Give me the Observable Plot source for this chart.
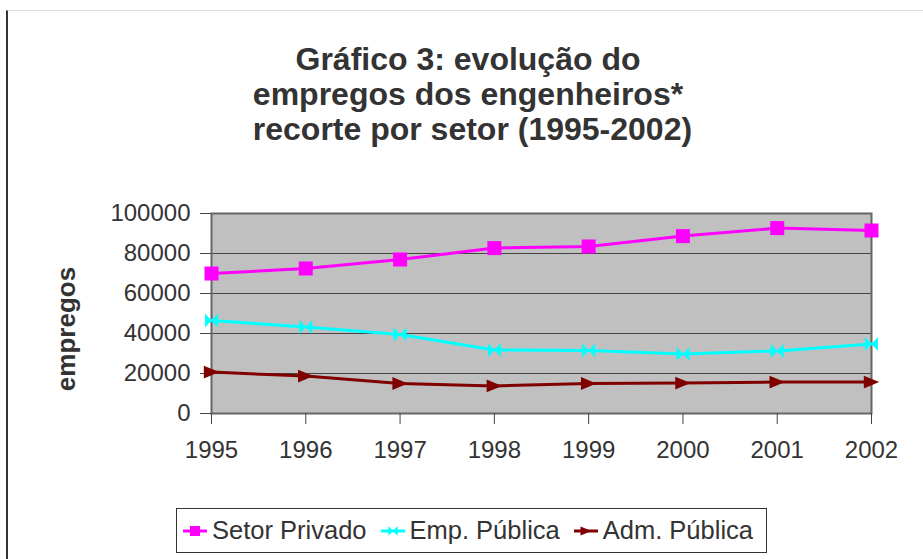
<!DOCTYPE html>
<html>
<head>
<meta charset="utf-8">
<script src="https://cdn.jsdelivr.net/npm/d3@7"></script>
<script src="https://cdn.jsdelivr.net/npm/@observablehq/plot@0.6"></script>
<style>
  html, body { margin: 0; padding: 0; background: #fff; }
  body { width: 923px; height: 559px; position: relative; overflow: hidden; font-family: "Liberation Sans", Arial, sans-serif; color: #333; }
  #frame { position: absolute; left: 6px; top: 10px; width: 917px; height: 560px; border-top: 1px solid #ddd; border-left: 2px solid #333; box-sizing: border-box; }
  #title { position: absolute; left: 0; top: 42px; width: 936px; text-align: center; font-weight: bold; font-size: 32px; line-height: 35px; white-space: pre; color: #333; }
  #ylabel { position: absolute; left: 66px; top: 329px; transform: translate(-50%, -50%) rotate(-90deg); font-weight: bold; font-size: 26px; line-height: normal; white-space: nowrap; color: #333; }
  #chart { position: absolute; left: 0; top: 160px; }
  #legend { position: absolute; left: 176px; top: 508px; width: 591px; height: 45px; border: 1px solid #333; box-sizing: border-box; display: flex; flex-wrap: nowrap; align-items: center; padding-left: 6px; font-size: 25.5px; color: #333; background: #fff; white-space: nowrap; overflow: hidden; }
  .item { display: flex; align-items: center; margin-right: 14px; flex: 0 0 auto; white-space: nowrap; }
  .item svg { margin-right: 5px; flex: 0 0 auto; }
</style>
</head>
<body>
<div id="frame"></div>
<div id="title"></div>
<div id="ylabel"></div>
<div id="chart"></div>
<div id="legend"></div>
<script>
const titleLines = ["Gráfico 3: evolução do", "empregos dos engenheiros*", " recorte por setor (1995-2002)"];
const years = [1995, 1996, 1997, 1998, 1999, 2000, 2001, 2002];
const seriesNames = ["Setor Privado", "Emp. Pública", "Adm. Pública"];
const seriesColors = ["#ff00ff", "#00ffff", "#800000"];
const setorPrivado = [70000, 72500, 77000, 82700, 83500, 88700, 92700, 91500];
const empPublica = [46500, 43200, 39500, 31800, 31500, 29800, 31300, 34800];
const admPublica = [20700, 18700, 15000, 13800, 15000, 15200, 15700, 15700];
const yTicks = [0, 20000, 40000, 60000, 80000, 100000];
const yLabel = "empregos";

const seriesValues = [setorPrivado, empPublica, admPublica];
const rows = [];
seriesNames.forEach((name, i) => {
  years.forEach((year, j) => rows.push({series: name, year, value: seriesValues[i][j]}));
});

const squareSym = d3.symbolSquare;
const bowtieSym = {
  draw(ctx, size) {
    const w = Math.sqrt(size) * 0.46, h = Math.sqrt(size) * 0.5;
    ctx.moveTo(-w, -h); ctx.lineTo(0, 0); ctx.lineTo(-w, h); ctx.closePath();
    ctx.moveTo(w, -h); ctx.lineTo(0, 0); ctx.lineTo(w, h); ctx.closePath();
  }
};
const triRightSym = {
  draw(ctx, size) {
    const w = Math.sqrt(size) * 0.55, h = Math.sqrt(size) * 0.46;
    ctx.moveTo(-w, -h); ctx.lineTo(w, 0); ctx.lineTo(-w, h); ctx.closePath();
  }
};
const symbols = [squareSym, bowtieSym, triRightSym];

document.getElementById("title").textContent = titleLines.join("\n");
document.getElementById("ylabel").textContent = yLabel;

const chart = Plot.plot({
  width: 923,
  height: 320,
  marginTop: 53,
  marginBottom: 67,
  marginLeft: 211,
  marginRight: 52,
  style: {fontFamily: "'Liberation Sans', Arial, sans-serif", fontSize: "24px", color: "#333", background: "transparent", overflow: "visible"},
  x: {domain: [years[0], years[years.length - 1]]},
  y: {domain: [0, 100000]},
  color: {domain: seriesNames, range: seriesColors},
  symbol: {domain: seriesNames, range: symbols},
  marks: [
    Plot.frame({fill: "#c0c0c0"}),
    Plot.gridY(yTicks, {stroke: "#444", strokeOpacity: 1, strokeWidth: 1}),
    Plot.frame({stroke: "#666", strokeWidth: 2}),
    Plot.axisY({ticks: yTicks, tickFormat: d3.format("d"), tickSize: 11, tickPadding: 10, label: null, stroke: "#444"}),
    Plot.axisX({ticks: years, tickFormat: d3.format("d"), tickSize: 11, tickPadding: 16, label: null, stroke: "#444"}),
    Plot.line(rows, {x: "year", y: "value", z: "series", stroke: "series", strokeWidth: 3}),
    Plot.dot(rows, {x: "year", y: "value", symbol: "series", fill: "series", r: 7.9})
  ]
});
document.getElementById("chart").appendChild(chart);

// legend
const legend = document.getElementById("legend");
seriesNames.forEach((name, i) => {
  const item = document.createElement("div");
  item.className = "item";
  const svg = d3.create("svg").attr("width", 24).attr("height", 20);
  svg.append("line").attr("x1", 0).attr("x2", 24).attr("y1", 10).attr("y2", 10)
    .attr("stroke", seriesColors[i]).attr("stroke-width", 3);
  svg.append("path").attr("transform", "translate(12,10)")
    .attr("d", d3.symbol(symbols[i], 100)()).attr("fill", seriesColors[i]);
  item.appendChild(svg.node());
  const span = document.createElement("span");
  span.textContent = name;
  item.appendChild(span);
  legend.appendChild(item);
});
</script>
</body>
</html>
